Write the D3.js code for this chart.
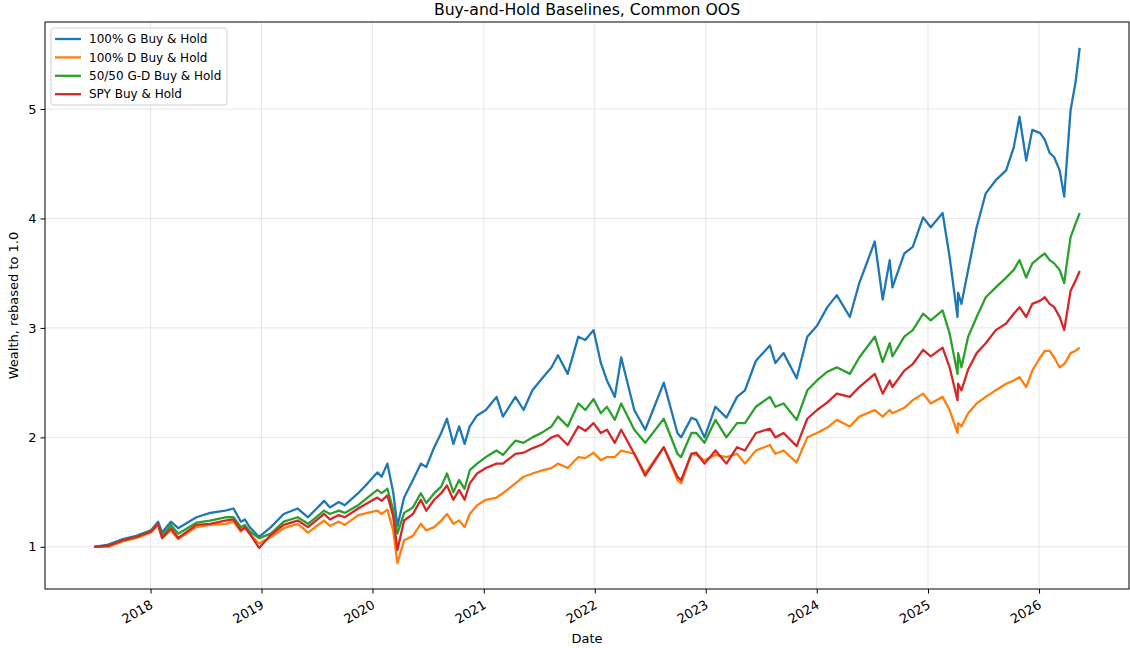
<!DOCTYPE html>
<html>
<head>
<meta charset="utf-8">
<script src="https://cdn.jsdelivr.net/npm/d3@7"></script>
<style>
  body { margin: 0; background: #fff; }
  text { font-family: "DejaVu Sans", sans-serif; }
</style>
</head>
<body>
<script>
// sample dates
const dates = [
  "2017-06-30","2017-08-15","2017-10-02","2017-11-15","2018-01-02","2018-01-26","2018-02-08","2018-03-09",
  "2018-04-02","2018-06-01","2018-07-16","2018-09-04","2018-10-01","2018-10-25","2018-11-07","2018-11-23",
  "2018-12-24","2019-02-01","2019-03-15","2019-04-30","2019-06-03","2019-07-26","2019-08-14","2019-09-12",
  "2019-10-02","2019-11-15","2019-12-16","2020-01-17","2020-01-31","2020-02-19","2020-03-09","2020-03-23",
  "2020-04-14","2020-05-13","2020-06-08","2020-06-26","2020-07-22","2020-08-14","2020-09-02","2020-09-23",
  "2020-10-12","2020-10-30","2020-11-16","2020-12-10","2021-01-08","2021-02-12","2021-03-05","2021-04-15",
  "2021-05-12","2021-06-10","2021-07-15","2021-08-12","2021-09-02","2021-10-04","2021-11-08","2021-12-01",
  "2021-12-28","2022-01-21","2022-02-10","2022-03-08","2022-03-29","2022-05-11","2022-06-16","2022-08-16",
  "2022-09-30","2022-10-12","2022-11-15","2022-12-01","2022-12-28","2023-02-02","2023-03-10","2023-04-14",
  "2023-05-10","2023-06-15","2023-07-31","2023-08-18","2023-09-14","2023-10-27","2023-12-01","2024-01-02",
  "2024-02-05","2024-03-07","2024-04-19","2024-05-20","2024-07-10","2024-08-05","2024-08-28","2024-09-06",
  "2024-10-15","2024-11-12","2024-12-16","2025-01-10","2025-02-18","2025-03-13","2025-04-08","2025-04-10",
  "2025-04-21","2025-05-13","2025-06-10","2025-07-10","2025-08-12","2025-09-15","2025-10-10","2025-10-29",
  "2025-11-20","2025-12-10","2026-01-05","2026-01-20","2026-02-05","2026-02-20","2026-03-10","2026-03-25",
  "2026-04-01","2026-04-15","2026-05-01","2026-05-15"
];

const growth = [
  1.00,1.02,1.07,1.10,1.15,1.23,1.13,1.23, 1.17,1.27,1.31,1.33,1.35,1.23,1.25,1.18,
  1.09,1.18,1.30,1.35,1.27,1.42,1.36,1.41, 1.38,1.49,1.58,1.68,1.64,1.76,1.50,1.19,
  1.45,1.61,1.76,1.73,1.91,2.04,2.17,1.94, 2.10,1.94,2.10,2.20,2.25,2.37,2.19,2.37,
  2.25,2.43,2.55,2.64,2.75,2.58,2.92,2.89, 2.98,2.68,2.52,2.37,2.73,2.25,2.07,2.50,
  2.04,2.00,2.18,2.16,2.00,2.28,2.18,2.37, 2.43,2.70,2.84,2.68,2.77,2.54,2.92,3.02,
  3.19,3.30,3.10,3.41,3.79,3.26,3.62,3.37, 3.68,3.74,4.01,3.92,4.05,3.65,3.10,3.32,
  3.22,3.53,3.92,4.23,4.35,4.44,4.65,4.93, 4.53,4.81,4.78,4.72,4.60,4.56,4.44,4.20,
  4.47,4.99,5.24,5.56
];

const defensive = [
  1.00,1.00,1.05,1.08,1.13,1.20,1.08,1.15, 1.07,1.18,1.20,1.21,1.23,1.14,1.17,1.12,
  1.03,1.09,1.17,1.21,1.13,1.24,1.19,1.23, 1.20,1.29,1.31,1.33,1.30,1.34,1.15,0.85,
  1.06,1.10,1.21,1.15,1.18,1.24,1.30,1.21, 1.24,1.18,1.30,1.38,1.43,1.45,1.49,1.58,
  1.64,1.67,1.70,1.72,1.76,1.72,1.82,1.81, 1.86,1.79,1.82,1.82,1.88,1.85,1.67,1.91,
  1.61,1.58,1.85,1.84,1.79,1.84,1.82,1.85, 1.76,1.88,1.93,1.85,1.88,1.77,2.00,2.04,
  2.09,2.16,2.10,2.19,2.25,2.19,2.25,2.22, 2.27,2.34,2.40,2.31,2.37,2.25,2.04,2.13,
  2.10,2.22,2.31,2.37,2.43,2.49,2.52,2.55, 2.46,2.61,2.73,2.79,2.79,2.73,2.64,2.67,
  2.70,2.77,2.79,2.82
];

const mix5050 = [
  1.00,1.01,1.06,1.09,1.14,1.21,1.10,1.20, 1.12,1.22,1.24,1.27,1.27,1.18,1.20,1.14,
  1.08,1.12,1.23,1.27,1.21,1.33,1.30,1.33, 1.31,1.38,1.45,1.52,1.49,1.53,1.34,1.12,
  1.31,1.36,1.49,1.40,1.49,1.55,1.67,1.50, 1.61,1.53,1.70,1.76,1.82,1.88,1.84,1.97,
  1.95,2.00,2.05,2.10,2.19,2.10,2.31,2.25, 2.35,2.22,2.28,2.16,2.31,2.07,1.95,2.17,
  1.85,1.82,2.04,2.04,1.95,2.16,2.00,2.13, 2.13,2.28,2.37,2.28,2.31,2.16,2.43,2.52,
  2.60,2.64,2.58,2.73,2.92,2.69,2.86,2.74, 2.92,2.98,3.13,3.07,3.16,2.95,2.58,2.77,
  2.64,2.92,3.10,3.28,3.37,3.46,3.53,3.62, 3.46,3.59,3.65,3.68,3.62,3.59,3.53,3.41,
  3.56,3.83,3.95,4.05
];

const spy = [
  1.00,1.01,1.06,1.09,1.14,1.21,1.08,1.17, 1.08,1.20,1.21,1.24,1.25,1.15,1.18,1.12,
  0.99,1.11,1.20,1.24,1.18,1.30,1.25,1.29, 1.27,1.35,1.40,1.45,1.42,1.47,1.28,0.97,
  1.24,1.30,1.43,1.33,1.43,1.49,1.56,1.43, 1.52,1.43,1.58,1.67,1.72,1.76,1.76,1.85,
  1.86,1.90,1.94,2.00,2.02,1.93,2.10,2.06, 2.13,2.04,2.07,1.95,2.07,1.85,1.65,1.91,
  1.64,1.61,1.85,1.86,1.76,1.88,1.76,1.91, 1.88,2.04,2.08,2.00,2.04,1.92,2.17,2.25,
  2.32,2.40,2.37,2.46,2.58,2.40,2.52,2.46, 2.61,2.67,2.80,2.74,2.82,2.64,2.34,2.49,
  2.43,2.62,2.77,2.86,2.98,3.04,3.13,3.19, 3.10,3.22,3.25,3.28,3.22,3.19,3.10,2.98,
  3.10,3.34,3.43,3.52
];

const seriesNames = ["100% G Buy & Hold", "100% D Buy & Hold", "50/50 G-D Buy & Hold", "SPY Buy & Hold"];
const seriesColors = ["#1f77b4", "#ff7f0e", "#2ca02c", "#d62728"];
const yTicks = [1, 2, 3, 4, 5];
const xTickYears = [2018, 2019, 2020, 2021, 2022, 2023, 2024, 2025, 2026];

const W = 1130, H = 648;
const margin = {top: 22, right: 1, bottom: 59, left: 45};
const width = W - margin.left - margin.right;
const height = H - margin.top - margin.bottom;

const parse = d3.timeParse("%Y-%m-%d");
const times = dates.map(parse);
const allSeries = [growth, defensive, mix5050, spy];

// matplotlib style 5% margins
const tExt = d3.extent(times);
const tPad = (tExt[1] - tExt[0]) * 0.05;
const vMin = d3.min(allSeries, s => d3.min(s));
const vMax = d3.max(allSeries, s => d3.max(s));
const vPad = (vMax - vMin) * 0.05;

const x = d3.scaleTime()
  .domain([new Date(+tExt[0] - tPad), new Date(+tExt[1] + tPad)])
  .range([0, width]);

const y = d3.scaleLinear()
  .domain([vMin - vPad, vMax + vPad])
  .range([height, 0]);

const svg = d3.select("body").append("svg")
  .attr("width", W)
  .attr("height", H);

const g = svg.append("g")
  .attr("transform", "translate(" + margin.left + "," + margin.top + ")");

const xTickDates = xTickYears.map(yr => new Date(yr, 0, 1));

// grid
g.append("g")
  .selectAll("line")
  .data(xTickDates)
  .enter().append("line")
  .attr("x1", d => x(d)).attr("x2", d => x(d))
  .attr("y1", 0).attr("y2", height)
  .attr("stroke", "#b0b0b0").attr("stroke-opacity", 0.3).attr("stroke-width", 1);

g.append("g")
  .selectAll("line")
  .data(yTicks)
  .enter().append("line")
  .attr("x1", 0).attr("x2", width)
  .attr("y1", d => y(d)).attr("y2", d => y(d))
  .attr("stroke", "#b0b0b0").attr("stroke-opacity", 0.3).attr("stroke-width", 1);

// lines
const line = d3.line()
  .x((d, i) => x(times[i]))
  .y(d => y(d));

allSeries.forEach((s, k) => {
  g.append("path")
    .datum(s)
    .attr("d", line)
    .attr("fill", "none")
    .attr("stroke", seriesColors[k])
    .attr("stroke-width", 2.3)
    .attr("stroke-linejoin", "round");
});

// axes
const xAxis = d3.axisBottom(x)
  .tickValues(xTickDates)
  .tickFormat(d3.timeFormat("%Y"))
  .tickSize(4.5)
  .tickPadding(4);

const yAxis = d3.axisLeft(y)
  .tickValues(yTicks)
  .tickFormat(d3.format("d"))
  .tickSize(4.5)
  .tickPadding(4);

const gx = g.append("g")
  .attr("transform", "translate(0," + height + ")")
  .call(xAxis);
gx.select(".domain").remove();
// rotated labels, top-right corner at the tick
gx.selectAll("text")
  .style("font-size", "13px")
  .attr("fill", "#000")
  .attr("text-anchor", "end")
  .attr("x", -2)
  .attr("y", 10)
  .attr("dy", "0.75em")
  .attr("transform", "rotate(-30,-2,10)");

const gy = g.append("g").call(yAxis);
gy.select(".domain").remove();
gy.selectAll("text").style("font-size", "13px").attr("fill", "#000");

// spines
g.append("rect")
  .attr("x", 0).attr("y", 0)
  .attr("width", width).attr("height", height)
  .attr("fill", "none")
  .attr("stroke", "#000")
  .attr("stroke-width", 1);

// title and labels
svg.append("text")
  .attr("x", margin.left + width / 2)
  .attr("y", 15)
  .attr("text-anchor", "middle")
  .style("font-size", "15.7px")
  .text("Buy-and-Hold Baselines, Common OOS");

svg.append("text")
  .attr("x", margin.left + width / 2)
  .attr("y", 643)
  .attr("text-anchor", "middle")
  .style("font-size", "13px")
  .text("Date");

svg.append("text")
  .attr("transform", "translate(18," + (margin.top + height / 2) + ") rotate(-90)")
  .attr("text-anchor", "middle")
  .style("font-size", "13px")
  .text("Wealth, rebased to 1.0");

// legend
const leg = g.append("g").attr("transform", "translate(6,6)");
leg.append("rect")
  .attr("width", 176).attr("height", 77)
  .attr("rx", 3)
  .attr("fill", "#fff").attr("fill-opacity", 0.8)
  .attr("stroke", "#d0d0d0");

seriesNames.forEach((name, k) => {
  const yy = 11 + k * 18.4;
  leg.append("line")
    .attr("x1", 4).attr("x2", 30)
    .attr("y1", yy).attr("y2", yy)
    .attr("stroke", seriesColors[k])
    .attr("stroke-width", 2.3);
  leg.append("text")
    .attr("x", 38).attr("y", yy)
    .attr("dy", "0.35em")
    .style("font-size", "12px")
    .text(name);
});
</script>
</body>
</html>
